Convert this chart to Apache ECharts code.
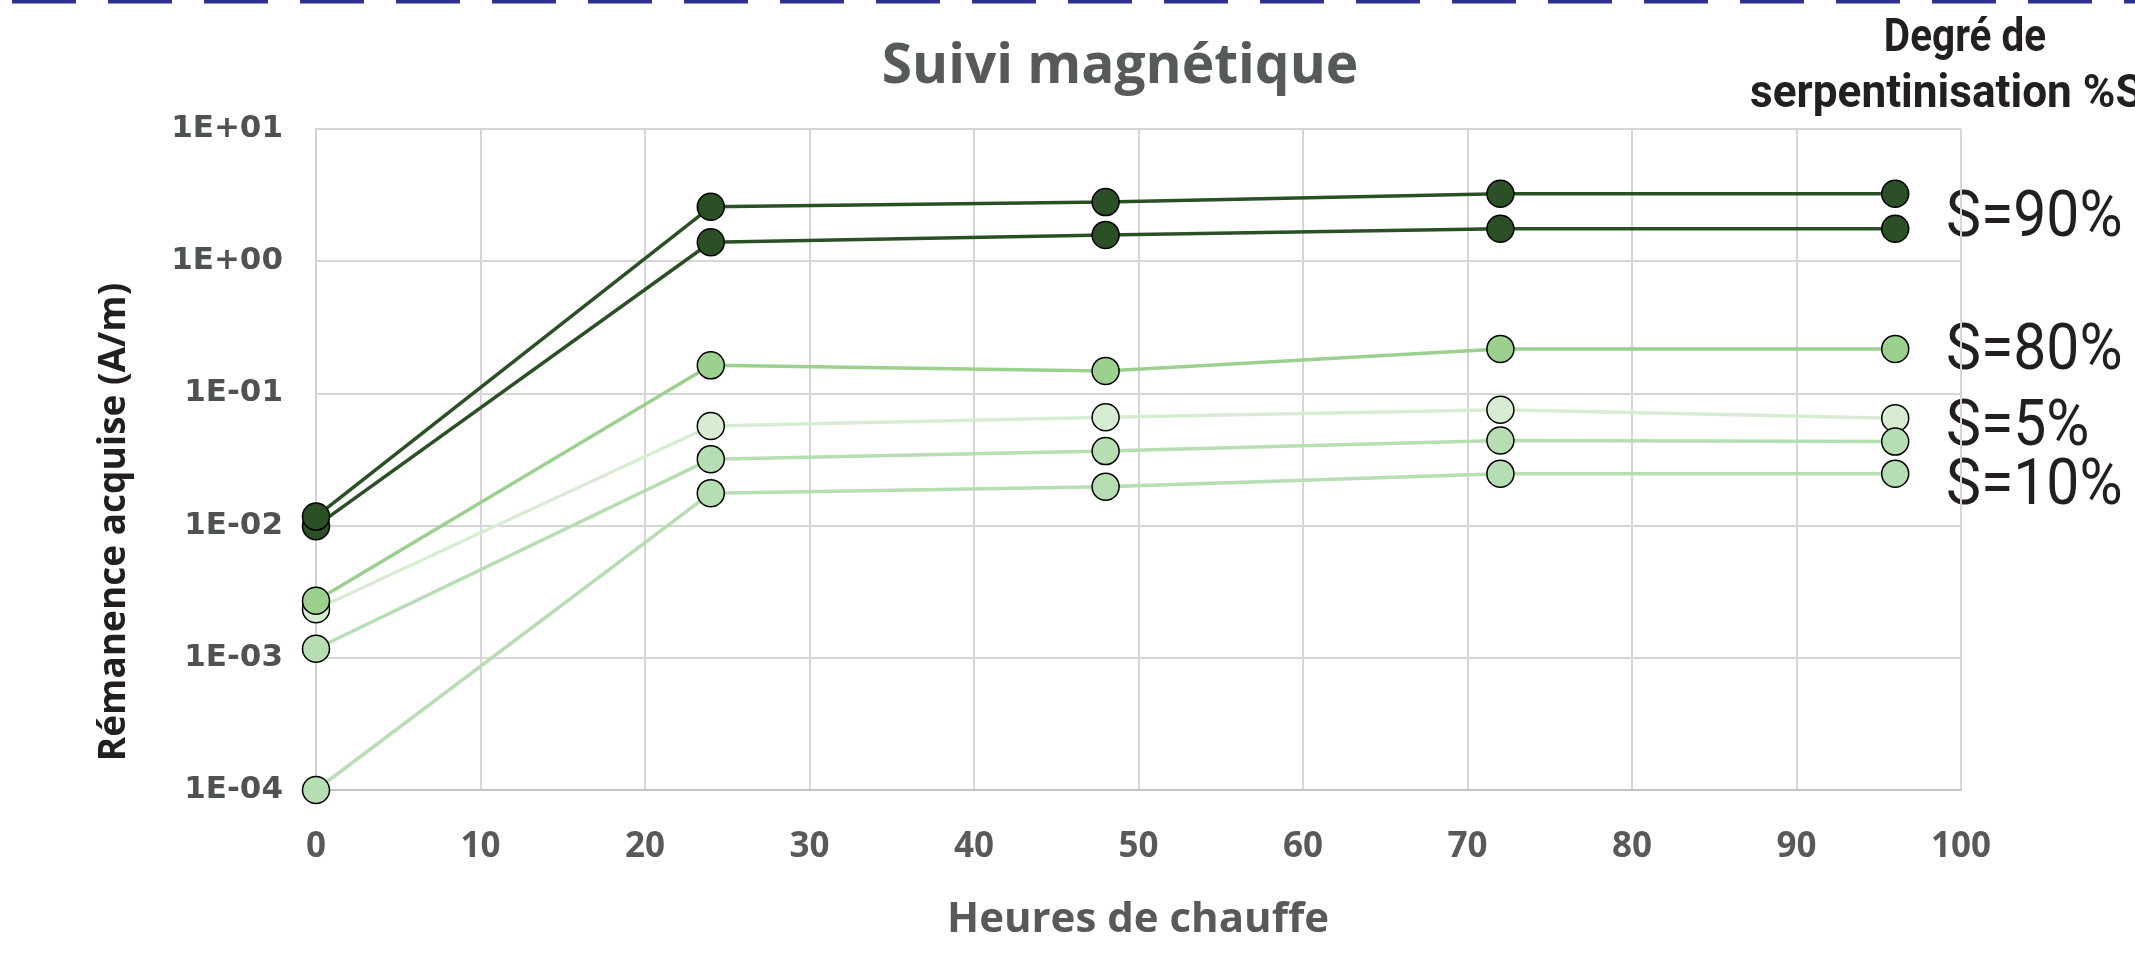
<!DOCTYPE html>
<html>
<head>
<meta charset="utf-8">
<script src="https://cdn.jsdelivr.net/npm/echarts@6/dist/echarts.min.js"></script>
<style>
html,body{margin:0;padding:0;background:#fff;}
#chart{width:2135px;height:955px;}
</style>
</head>
<body>
<div id="chart"></div>
<script>
// ---- data ----
const hours = [0, 24, 48, 72, 96];
const s90a = [0.0117, 2.58, 2.80, 3.24, 3.24];
const s90b = [0.0099, 1.39, 1.58, 1.76, 1.76];
const s80 = [0.0027, 0.163, 0.148, 0.217, 0.217];
const s5 = [0.00233, 0.0567, 0.066, 0.0752, 0.065];
const s10a = [0.00117, 0.0318, 0.0366, 0.044, 0.0432];
const s10b = [0.0001, 0.0176, 0.0197, 0.0247, 0.0247];
const yTickLabels = ['1E-04', '1E-03', '1E-02', '1E-01', '1E+00', '1E+01'];
const xTickLabels = ['0', '10', '20', '30', '40', '50', '60', '70', '80', '90', '100'];
const legendLabels = ['S=90%', 'S=80%', 'S=5%', 'S=10%'];
const titleText = 'Suivi magnétique';
const xName = 'Heures de chauffe';
const yName = 'Rémanence acquise (A/m)';
const legendTitle1 = 'Degré de';
const legendTitle2 = 'serpentinisation %S';

const C90 = '#2b5026', C80 = '#9bd08f', C5 = '#d8ecd3', C10 = '#b7ddb2';

function pairs(arr) { return hours.map((h, i) => [h, arr[i]]); }
function mk(name, arr, color) {
  return {
    name: name, type: 'line', data: pairs(arr),
    symbol: 'circle', symbolSize: 27,
    itemStyle: { color: color, borderColor: '#000', borderWidth: 1.5 },
    lineStyle: { color: color, width: 3.5 },
    emphasis: { disabled: true },
    animation: false
  };
}

const chart = echarts.init(document.getElementById('chart'), null, { renderer: 'canvas' });
const din = 'Roboto, "DejaVu Sans Condensed", sans-serif';

function label(text, y) {
  return { type: 'text', x: 1946, y: y, scaleX: 0.92, style: { text: text, fill: '#231f20',
    font: '64px ' + din, textAlign: 'left', textVerticalAlign: 'middle' } };
}

chart.setOption({
  animation: false,
  grid: { left: 316, right: 174, top: 129, bottom: 165, containLabel: false },
  xAxis: {
    type: 'value', min: 0, max: 100, interval: 10,
    axisLine: { show: true, lineStyle: { color: '#c4c4c4', width: 2 } },
    axisTick: { show: false },
    splitLine: { show: true, lineStyle: { color: '#d6d6d6', width: 2 } },
    axisLabel: {
      margin: 40, color: '#595959', fontFamily: '"Open Sans"', fontWeight: 'bold', fontSize: 35,
      formatter: function (v) { return xTickLabels[Math.round(v / 10)]; }
    }
  },
  yAxis: {
    type: 'log', logBase: 10, min: 0.0001, max: 10, interval: 1,
    axisLine: { show: true, lineStyle: { color: '#d0d0d0', width: 2 } },
    axisTick: { show: false },
    splitLine: { show: true, lineStyle: { color: '#d6d6d6', width: 2 } },
    axisLabel: {
      margin: 33, color: '#4f5253', fontFamily: '"DejaVu Sans"', fontWeight: 'bold', fontSize: 31,
      formatter: function (v) { return yTickLabels[Math.round(Math.log10(v)) + 4]; }
    }
  },
  series: [
    mk('S=90% b', s90b, C90),
    mk('S=90% a', s90a, C90),
    mk('S=5%', s5, C5),
    mk('S=80%', s80, C80),
    mk('S=10% a', s10a, C10),
    mk('S=10% b', s10b, C10)
  ],
  graphic: [
    { type: 'line', silent: true, shape: { x1: 12, y1: 1.8, x2: 2135, y2: 1.8 },
      style: { stroke: '#2e3192', lineWidth: 3.6, lineDash: [64, 32] } },
    { type: 'text', x: 1120, y: 67, style: { text: titleText, fill: '#575a5a',
      font: 'bold 55px "Open Sans"', textAlign: 'center', textVerticalAlign: 'middle' } },
    { type: 'text', x: 114, y: 522, rotation: Math.PI / 2, style: { text: yName, fill: '#231f20',
      font: 'bold 37px "Open Sans"', textAlign: 'center', textVerticalAlign: 'middle' } },
    { type: 'text', x: 1138, y: 920, style: { text: xName, fill: '#595959',
      font: 'bold 42px "Open Sans"', textAlign: 'center', textVerticalAlign: 'middle' } },
    { type: 'text', x: 1965, y: 39, scaleX: 0.88, style: { text: legendTitle1, fill: '#231f20',
      font: 'bold 46px ' + din, textAlign: 'center', textVerticalAlign: 'middle' } },
    { type: 'text', x: 1750, y: 95, scaleX: 0.96, style: { text: legendTitle2, fill: '#231f20',
      font: 'bold 46px ' + din, textAlign: 'left', textVerticalAlign: 'middle' } },
    label(legendLabels[0], 220),
    label(legendLabels[1], 353),
    label(legendLabels[2], 429),
    label(legendLabels[3], 488)
  ]
});
</script>
</body>
</html>
